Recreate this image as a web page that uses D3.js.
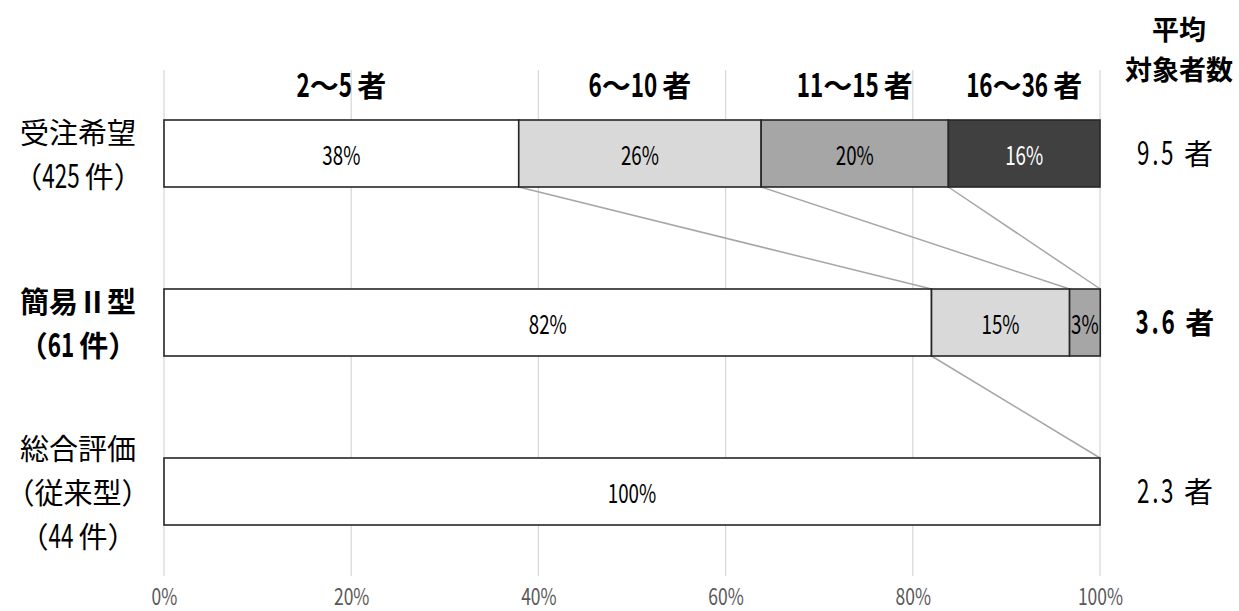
<!DOCTYPE html>
<html><head><meta charset="utf-8">
<script src="https://cdn.jsdelivr.net/npm/d3@7"></script>
<style>
body{margin:0;background:#fff;}
text{font-family:"Noto Sans CJK JP","Noto Sans",sans-serif;white-space:pre;}
</style></head>
<body><svg id="c" width="1239" height="611"></svg>
<script>
const categories = ["受注希望", "簡易Ⅱ型", "総合評価"];
const rowLabels = [["受注希望","（425 件）"],["簡易Ⅱ型","（61 件）"],["総合評価","（従来型）","（44 件）"]];
const rowBold = [false, true, false];
const groups = ["2〜5 者","6〜10 者","11〜15 者","16〜36 者"];
const shares = [
  [37.9, 25.9, 20.0, 16.2],
  [82.0, 14.75, 3.28, 0],
  [100, 0, 0, 0]
];
const shareLabels = [["38%","26%","20%","16%"],["82%","15%","3%",""],["100%","","",""]];
const averages = ["9.5 者","3.6 者","2.3 者"];
const avgTitle = ["平均","対象者数"];
const ticks = [0,20,40,60,80,100];
const fills = ["#ffffff","#d9d9d9","#a6a6a6","#404040"];
const textFills = ["#000","#000","#000","#fff"];

const svg = d3.select("#c");
const x = d3.scaleLinear().domain([0,100]).range([164,1100]);
const y = d3.scaleBand().domain(categories).range([120,525]).paddingInner(102/169).paddingOuter(0);

// mixed text: ASCII runs drawn taller and horizontally condensed (narrow digits)
function mixed(parent, str, cx, baseY, o){
  const g = parent.append("g");
  const runs = str.match(/[\x20-\x7E]+|[^\x20-\x7E]+/g);
  let pos = 0;
  runs.forEach(r=>{
    const asc = /^[\x20-\x7E]+$/.test(r);
    const sx = asc ? o.sx : 1;
    const t = g.append("text")
      .attr("font-size", asc ? o.asc : o.cjk)
      .attr("font-weight", o.weight || "normal")
      .attr("fill", o.fill || "#000")
      .attr("letter-spacing", asc && o.ls ? o.ls : null)
      .text(r);
    const w = t.node().getComputedTextLength()*sx;
    t.attr("transform", `translate(${pos},0) scale(${sx},1)`);
    pos += w;
  });
  g.attr("transform", `translate(${cx - pos/2},${baseY})`);
  return g;
}

// gridlines
svg.append("g").selectAll("line").data(ticks).join("line")
  .attr("x1",d=>x(d)).attr("x2",d=>x(d)).attr("y1",70).attr("y2",576)
  .attr("stroke","#d9d9d9").attr("stroke-width",1.3);

// axis
const ax = svg.append("g")
  .call(d3.axisBottom(x).tickValues(ticks).tickFormat(d=>d+"%").tickSize(0));
ax.select(".domain").remove();
ax.selectAll("text").attr("y",605).attr("dy",null)
  .attr("font-size",23).attr("fill","#595959")
  .attr("transform","scale(0.76,1)")
  .style("font-family",'"Noto Sans CJK JP",sans-serif');

// stacked data
const rows = categories.map((c,i)=>{
  let acc=0;
  return shares[i].map((v,j)=>{const s={row:i,cat:c,j,x0:acc,x1:acc+v,v,label:shareLabels[i][j]};acc+=v;return s;});
});

// connector lines between consecutive rows
const conn=[];
for(let i=0;i<rows.length-1;i++){
  for(let j=0;j<groups.length;j++){
    const a=rows[i][j], b=rows[i+1][j];
    if(a.x1>=100 || !(b.v>0)) continue;
    conn.push({x1:x(a.x1),y1:y(categories[i])+y.bandwidth(),x2:x(b.x1),y2:y(categories[i+1])});
  }
}
svg.append("g").selectAll("line").data(conn).join("line")
  .attr("x1",d=>d.x1).attr("y1",d=>d.y1).attr("x2",d=>d.x2).attr("y2",d=>d.y2)
  .attr("stroke","#a6a6a6").attr("stroke-width",1.5);

const segs = rows.flat().filter(d=>d.v>0);
svg.append("g").selectAll("rect").data(segs).join("rect")
  .attr("x",d=>x(d.x0)).attr("width",d=>x(d.x1)-x(d.x0))
  .attr("y",d=>y(d.cat)).attr("height",y.bandwidth())
  .attr("fill",d=>fills[d.j]).attr("stroke","#262626").attr("stroke-width",1.6);

const lab = svg.append("g");
segs.forEach(d=>{
  mixed(lab, d.label, (x(d.x0)+x(d.x1))/2, y(d.cat)+y.bandwidth()/2+11,
    {cjk:22, asc:26, sx:0.72, fill:textFills[d.j]});
});

// group headers (centered over first row segments)
const hd = svg.append("g");
rows[0].forEach((d,i)=>{
  mixed(hd, groups[i], (x(d.x0)+x(d.x1))/2, 97, {cjk:29, asc:33, sx:0.68, weight:"bold"});
});

// average title
svg.append("g").selectAll("text").data(avgTitle).join("text")
  .attr("x",1179).attr("y",(d,i)=>40+i*40)
  .attr("text-anchor","middle").attr("font-size",27).attr("font-weight","bold").text(d=>d);

// averages
const av = svg.append("g");
averages.forEach((s,i)=>{
  mixed(av, s, 1175, y(categories[i])+y.bandwidth()/2+11,
    {cjk:29, asc:33, sx:0.68, ls:4, weight: rowBold[i]?"bold":"normal"});
});

// row labels
const rl = svg.append("g");
rowLabels.forEach((lines,i)=>{
  const cy=y(categories[i])+y.bandwidth()/2;
  const n=lines.length, lh=44;
  lines.forEach((s,k)=>{
    mixed(rl, s, 78, cy+(k-(n-1)/2)*lh+12,
      {cjk:29, asc:33, sx:0.68, weight: rowBold[i]?"bold":"normal"});
  });
});
</script></body></html>
